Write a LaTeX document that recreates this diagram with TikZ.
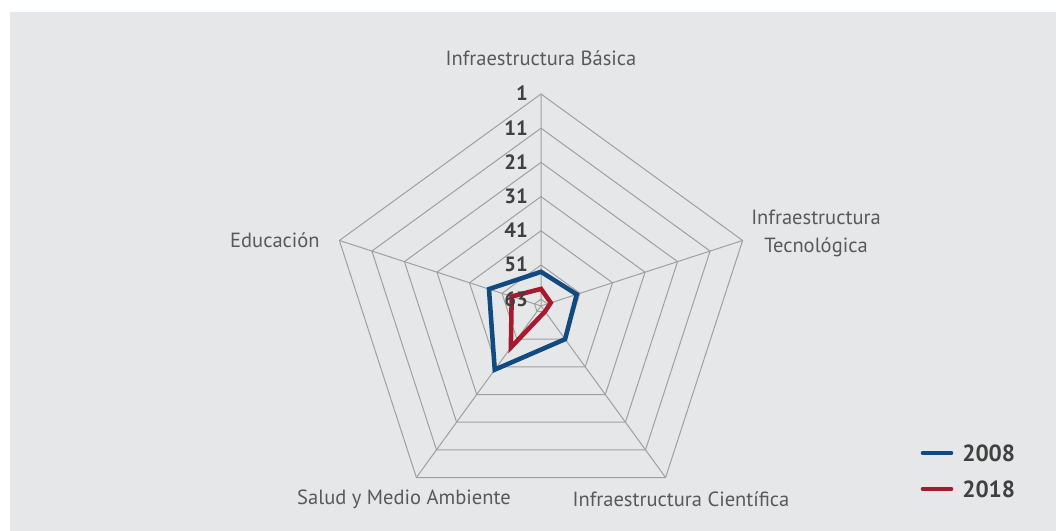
\documentclass[tikz,border=0pt]{standalone}
\usepackage{fontspec}
\setmainfont{PT Sans}
\definecolor{chartbg}{RGB}{230,231,233}
\definecolor{gridgray}{RGB}{160,160,160}
\definecolor{labelgray}{RGB}{89,89,89}
\definecolor{axisgray}{RGB}{64,64,64}
\definecolor{blueold}{RGB}{16,74,128}
\definecolor{rednew}{RGB}{166,25,46}
\tikzset{
  catlabel/.style={font=\fontsize{15.4}{21}\selectfont, text=labelgray, inner sep=0pt},
  axislabel/.style={font=\fontsize{15.5}{17}\selectfont\bfseries, text=axisgray, anchor=east, inner sep=0pt},
  legendlabel/.style={font=\fontsize{17.5}{20}\selectfont\bfseries, text=axisgray, anchor=west, inner sep=0pt},
  gridline/.style={gridgray, line width=0.75pt},
  serie/.style={line width=3.4pt},
}
\begin{document}
\begin{tikzpicture}[x=0.75pt, y=0.75pt]
\useasboundingbox (-541,-225) rectangle (515,306);
% Background
\fill[chartbg] (-531,-225) rectangle (515,294);

% Rings
\draw[gridline] (90:212) -- (18:212) -- (-54:212) -- (-126:212) -- (162:212) -- cycle;
\draw[gridline] (90:177.8) -- (18:177.8) -- (-54:177.8) -- (-126:177.8) -- (162:177.8) -- cycle;
\draw[gridline] (90:143.6) -- (18:143.6) -- (-54:143.6) -- (-126:143.6) -- (162:143.6) -- cycle;
\draw[gridline] (90:109.4) -- (18:109.4) -- (-54:109.4) -- (-126:109.4) -- (162:109.4) -- cycle;
\draw[gridline] (90:75.2) -- (18:75.2) -- (-54:75.2) -- (-126:75.2) -- (162:75.2) -- cycle;
\draw[gridline] (90:41) -- (18:41) -- (-54:41) -- (-126:41) -- (162:41) -- cycle;
\draw[gridline] (90:6.8) -- (18:6.8) -- (-54:6.8) -- (-126:6.8) -- (162:6.8) -- cycle;

% Spokes
\draw[gridline] (0,0) -- (90:212) (0,0) -- (18:212) (0,0) -- (-54:212) (0,0) -- (-126:212) (0,0) -- (162:212);

% Series
\draw[serie, blueold] (90:34.2) -- (18:37.6) -- (-54:41) -- (-126:78.7) -- (162:54.7) -- cycle;
\draw[serie, rednew] (90:17.1) -- (18:10.3) -- (-54:6.8) -- (-126:51.3) -- (162:30.8) -- cycle;

% Axis values
\node[axislabel] (v1) at (-13, 212.7) {1};
\node[axislabel] (v11) at (-13, 178.3) {11};
\node[axislabel] (v21) at (-13, 144.1) {21};
\node[axislabel] (v31) at (-13, 109.9) {31};
\node[axislabel] (v41) at (-13, 75.7) {41};
\node[axislabel] (v51) at (-13, 41.5) {51};
\node[axislabel] (v63) at (-13, 7) {63};

% Categories
\node[catlabel] (basica) at (0, 248) {Infraestructura Básica};
\node[catlabel, align=center] (tecno) at (275, 73) {Infraestructura\\Tecnológica};
\node[catlabel, anchor=east] (educ) at (-221, 66) {Educación};
\node[catlabel] (salud) at (-137, -193) {Salud y Medio Ambiente};
\node[catlabel] (cienti) at (140, -193) {Infraestructura Científica};

% Legend
\draw[blueold, line width=3.5pt, line cap=round] (382,-147) -- (410,-147);
\draw[rednew, line width=3.5pt, line cap=round] (382,-183) -- (410,-183);
\node[legendlabel] (l2008) at (421,-147) {2008};
\node[legendlabel] (l2018) at (421,-183) {2018};
\end{tikzpicture}
\end{document}
